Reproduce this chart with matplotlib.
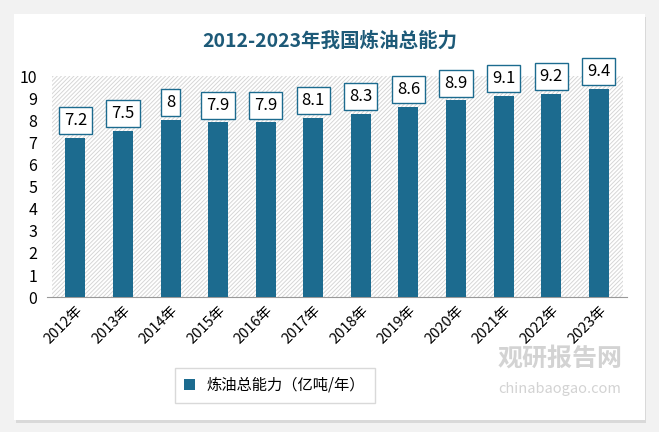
import matplotlib.pyplot as plt
from matplotlib.patches import Rectangle

plt.rcParams['font.family'] = ['Noto Sans CJK SC', 'DejaVu Sans']
plt.rcParams['hatch.linewidth'] = 0.7

years = ['2012年', '2013年', '2014年', '2015年', '2016年', '2017年',
         '2018年', '2019年', '2020年', '2021年', '2022年', '2023年']
capacity = [7.2, 7.5, 8, 7.9, 7.9, 8.1, 8.3, 8.6, 8.9, 9.1, 9.2, 9.4]
labels = ['7.2', '7.5', '8', '7.9', '7.9', '8.1', '8.3', '8.6', '8.9', '9.1', '9.2', '9.4']

bar_color = '#1c6b8f'
title_color = '#1d5a78'

fig = plt.figure(figsize=(6.59, 4.32), dpi=100)
fig.patch.set_facecolor('#f2f2f2')

# white card with a soft shadow
shadow = Rectangle((0.025, 0.02), 0.955, 0.94, transform=fig.transFigure,
                   facecolor='#d9d9d9', edgecolor='none', zorder=-2)
card = Rectangle((0.021, 0.028), 0.957, 0.94, transform=fig.transFigure,
                 facecolor='white', edgecolor='none', zorder=-1)
fig.patches.extend([shadow, card])

ax = fig.add_axes([0.071, 0.312, 0.881, 0.512])
ax.set_zorder(2)
ax.set_facecolor('white')
x = range(len(years))
ax.bar(x, [10] * len(years), width=1.0, color='white', hatch='////////',
       edgecolor='#d6d6d6', linewidth=0, zorder=1)
bars = ax.bar(x, capacity, width=0.42, color=bar_color, zorder=3,
              label='炼油总能力（亿吨/年）')

for i, v in enumerate(capacity):
    ax.text(i, v + 0.4, labels[i], ha='center', va='bottom', fontsize=12,
            color='black', zorder=4,
            bbox=dict(boxstyle='square,pad=0.3', facecolor='white',
                      edgecolor=bar_color, linewidth=1))

ax.set_ylim(0, 10)
ax.set_xlim(-0.6, len(years) - 0.4)
ax.set_yticks(range(0, 11))
ax.tick_params(axis='y', length=0, labelsize=11.5, pad=7)
ax.tick_params(axis='x', length=0, labelsize=10.5, pad=4)
ax.set_xticks(list(x))
ax.set_xticklabels(years, rotation=45, ha='right', rotation_mode='anchor')
for s in ['top', 'right', 'left']:
    ax.spines[s].set_visible(False)
ax.spines['bottom'].set_color('#999999')

fig.text(0.5, 0.905, '2012-2023年我国炼油总能力', ha='center', va='center',
         fontsize=14, fontweight='bold', color=title_color)

leg = fig.legend(handles=[bars], loc='center', bbox_to_anchor=(0.417, 0.108),
                 fontsize=11, frameon=True, fancybox=False, handlelength=0.7,
                 handleheight=0.7, borderpad=0.6, borderaxespad=0)
leg.get_frame().set_edgecolor('#d0d0d0')
leg.get_frame().set_linewidth(1)

# watermark
fig.text(0.85, 0.17, '观研报告网', ha='center', va='center', fontsize=18,
         fontweight='bold', color='#c8c8c8', alpha=0.8)
fig.text(0.85, 0.1, 'chinabaogao.com', ha='center', va='center', fontsize=10.5,
         color='#c8c8c8', alpha=0.8)

fig.savefig('out.png', dpi=100, facecolor=fig.get_facecolor())
